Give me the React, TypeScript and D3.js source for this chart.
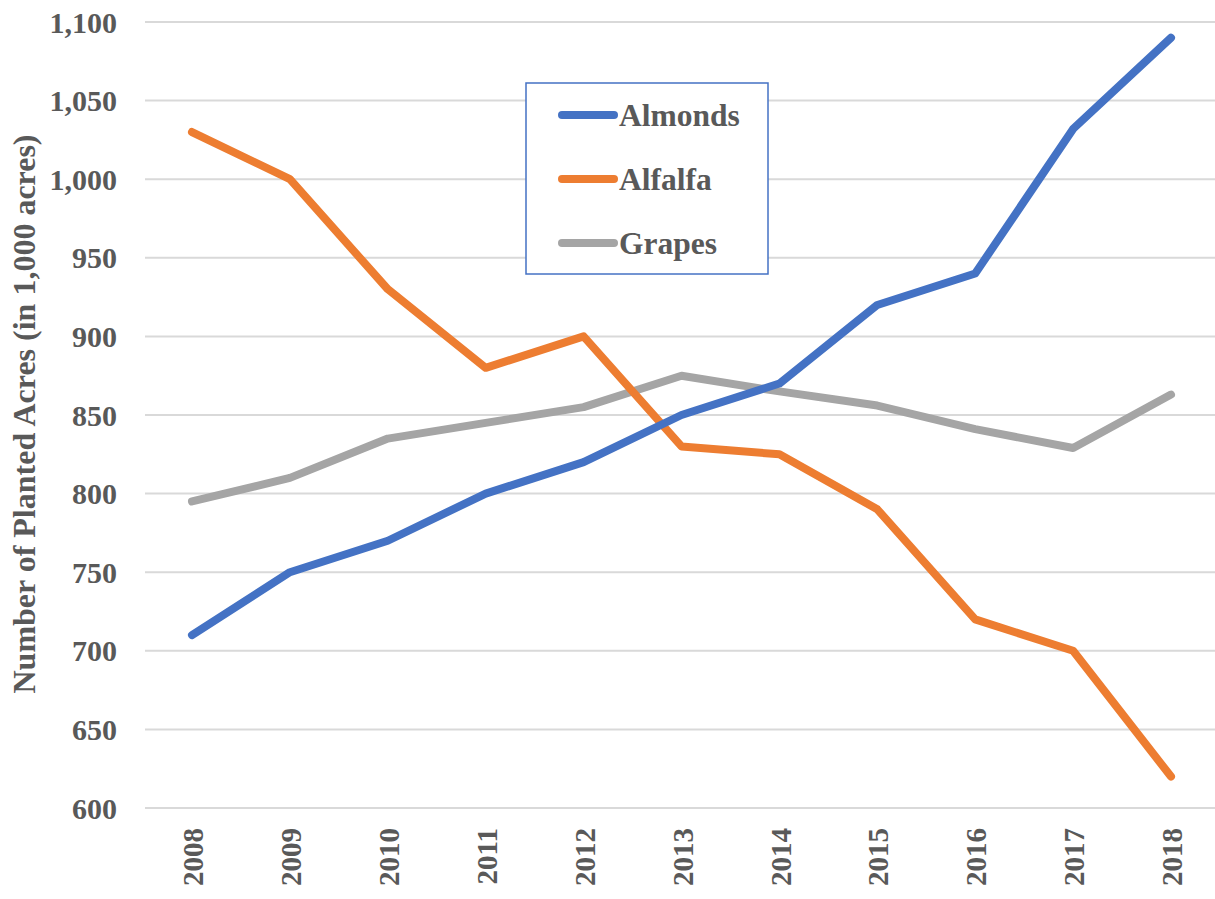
import React from 'react';
import * as d3 from 'd3';

const years = ['2008', '2009', '2010', '2011', '2012', '2013', '2014', '2015', '2016', '2017', '2018'];
const almonds = [710, 750, 770, 800, 820, 850, 870, 920, 940, 1032, 1090];
const alfalfa = [1030, 1000, 930, 880, 900, 830, 825, 790, 720, 700, 620];
const grapes = [795, 810, 835, 845, 855, 875, 865, 856, 841, 829, 863];
const yTicks = [600, 650, 700, 750, 800, 850, 900, 950, 1000, 1050, 1100];

const seriesList = [
    { name: 'Almonds', values: almonds, color: '#4472c4' },
    { name: 'Alfalfa', values: alfalfa, color: '#ed7d31' },
    { name: 'Grapes', values: grapes, color: '#a5a5a5' },
];

const W = 1215;
const H = 899;
const font = '"Liberation Serif", "Times New Roman", serif';

const App = () => {
    // plot area
    const left = 145, right = W, top = 22, bottom = 808;
    const x = d3.scalePoint().domain(years).range([192, 1171]);
    const y = d3.scaleLinear().domain([600, 1100]).range([bottom, top]);

    const line = d3.line<number>()
        .x((_, i) => x(years[i]) as number)
        .y(d => y(d));

    return (
        <svg width={W} height={H} style={{ position: 'absolute', left: 0, top: 0, background: '#fff' }}>
            {/* gridlines */}
            {yTicks.map(t => (
                <line key={t} x1={left} x2={right} y1={y(t)} y2={y(t)} stroke="#d9d9d9" strokeWidth={2} />
            ))}
            {/* y tick labels */}
            {yTicks.map(t => (
                <text key={'l' + t} x={117} y={y(t)} dy="0.35em" textAnchor="end"
                    fontFamily={font} fontWeight="bold" fontSize={30} fill="#595959">
                    {d3.format(',')(t)}
                </text>
            ))}
            {/* x tick labels */}
            {years.map(yr => (
                <text key={yr} transform={`translate(${(x(yr) as number) + 1},828) rotate(-90)`}
                    dy="0.35em" textAnchor="end"
                    fontFamily={font} fontWeight="bold" fontSize={29} fill="#595959">
                    {yr}
                </text>
            ))}
            {/* y axis title */}
            <text transform={`translate(24,414) rotate(-90)`} dy="0.35em" textAnchor="middle"
                fontFamily={font} fontWeight="bold" fontSize={32} fill="#595959">
                Number of Planted Acres (in 1,000 acres)
            </text>
            {/* lines */}
            {seriesList.slice().reverse().map(s => (
                <path key={s.name} d={line(s.values) || ''} fill="none" stroke={s.color}
                    strokeWidth={8} strokeLinecap="round" strokeLinejoin="round" />
            ))}
            {/* legend */}
            <rect x={526} y={83} width={242} height={191} fill="#fff" stroke="#4472c4" strokeWidth={1.5} />
            {seriesList.map((s, i) => {
                const ly = 115 + i * 64;
                return (
                    <g key={'lg' + s.name}>
                        <line x1={562} x2={614} y1={ly} y2={ly} stroke={s.color} strokeWidth={8} strokeLinecap="round" />
                        <text x={619} y={ly} dy="0.35em" fontFamily={font} fontWeight="bold" fontSize={31.5} fill="#595959">
                            {s.name}
                        </text>
                    </g>
                );
            })}
        </svg>
    );
};

export default App;
